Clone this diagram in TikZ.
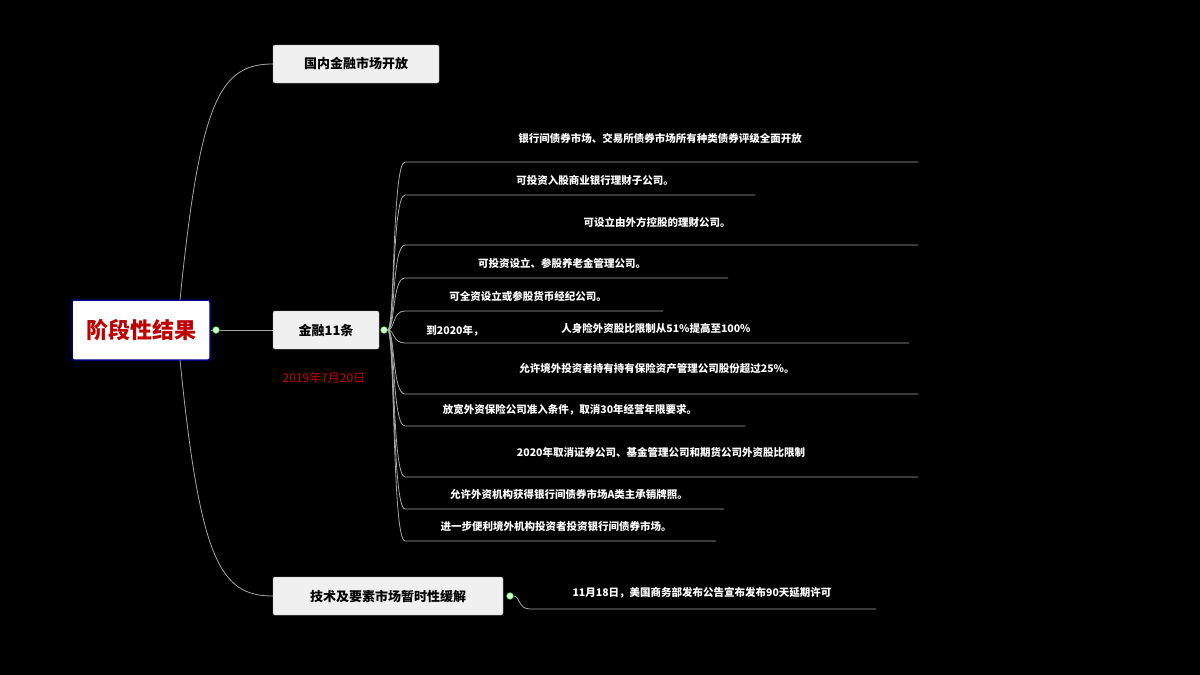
\documentclass[tikz,border=0pt]{standalone}
\usepackage{fontspec}
\setmainfont{Noto Sans CJK SC}
\begin{document}
\begin{tikzpicture}[x=1pt,y=-1pt,
 box/.style={draw=gray!60,fill=gray!12,rounded corners=2pt,font=\bfseries\fontsize{13}{15}\selectfont,inner sep=0pt,minimum height=38pt},
 leaf/.style={text=white,font=\bfseries\fontsize{10.5}{12}\selectfont,inner sep=0pt},
 br/.style={draw=gray!70,line width=0.8pt},
 hd/.style={circle,draw=green!60!black,fill=green!20,minimum size=7pt,inner sep=0pt}]
\useasboundingbox[fill=black] (0,0) rectangle (1200,675);
\node[draw=blue!50!black,line width=1.5pt,fill=white,rounded corners=2pt,minimum width=138pt,minimum height=60pt,inner sep=0pt,text=red!75!black,font=\bfseries\fontsize{22}{24}\selectfont] (root) at (141,330) {阶段性结果};
\node[box,minimum width=166pt] (a) at (356,64) {国内金融市场开放};
\node[box,minimum width=106pt] (b) at (326,330) {金融11条};
\node[box,minimum width=230pt] (c) at (388,596) {技术及要素市场暂时性缓解};
\node[text=red!80!black,font=\fontsize{12}{14}\selectfont] (date) at (324,378) {2019年7月20日};
\draw[br] (root.east) -- (b.west);
\draw[br] (180,300) .. controls (200,100) and (220,64) .. (a.west);
\draw[br] (180,360) .. controls (200,560) and (220,596) .. (c.west);
\node[hd] (hb) at (384,330) {};
\node[hd] (hc) at (510,596) {};
\node[hd] (hr) at (216,330) {};
\foreach \y/\e/\tx/\ty/\t [count=\i] in {
162/918/660/138/银行间债券市场、交易所债券市场所有种类债券评级全面开放,
195/755/595/180/可投资入股商业银行理财子公司。,
245/918/657/222/可设立由外方控股的理财公司。,
278/728/562/263/可投资设立、参股养老金管理公司。,
311/663/528/296/可全资设立或参股货币经纪公司。,
394/918/657/369/允许境外投资者持有持有保险资产管理公司股份超过25\%。,
426/745/570/410/放宽外资保险公司准入条件，取消30年经营年限要求。,
477/918/661/452/2020年取消证券公司、基金管理公司和期货公司外资股比限制,
509/724/569/494/允许外资机构获得银行间债券市场A类主承销牌照。,
541/716/556/526/进一步便利境外机构投资者投资银行间债券市场。}{
 \coordinate (s\i) at (405,\y);
 \coordinate (e\i) at (\e,\y);
 \draw[br] (hb.east) .. controls (395,330) and (392,\y) .. (s\i) -- (e\i);
 \node[leaf] (t\i) at (\tx,\ty) {\t};
}
\coordinate (s6) at (405,343); \coordinate (e6) at (909,343);
\draw[br] (hb.east) .. controls (395,330) and (392,343) .. (s6) -- (e6);
\node[leaf] (t6a) at (455,331) {到2020年，};
\node[leaf] (t6b) at (656,328) {人身险外资股比限制从51\%提高至100\%};
\coordinate (s12) at (530,609); \coordinate (e12) at (876,609);
\draw[br] (hc.east) .. controls (520,596) and (518,609) .. (s12) -- (e12);
\node[leaf] (t12) at (702,593) {11月18日，美国商务部发布公告宣布发布90天延期许可};
\end{tikzpicture}
\end{document}
